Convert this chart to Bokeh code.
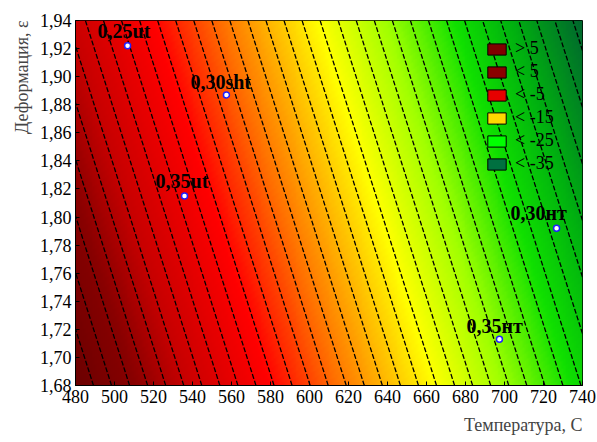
import numpy as np
from bokeh.plotting import figure
from bokeh.models import (ColumnDataSource, LinearColorMapper, FixedTicker,
                          Legend, LegendItem, Title)
from bokeh.core.properties import value
from bokeh.embed import file_html
from bokeh.resources import INLINE

# ---- axes ----
x_ticks = [480, 500, 520, 540, 560, 580, 600, 620, 640, 660, 680, 700, 720, 740]
x_tick_labels = [str(t) for t in x_ticks]
y_ticks = [1.68, 1.70, 1.72, 1.74, 1.76, 1.78, 1.80, 1.82, 1.84, 1.86, 1.88, 1.90, 1.92, 1.94]
y_tick_labels = ["1,68", "1,70", "1,72", "1,74", "1,76", "1,78", "1,80", "1,82",
                 "1,84", "1,86", "1,88", "1,90", "1,92", "1,94"]
x_title = "Температура, С"
y_title = "Деформация, ε"

# ---- fitted response surface z = b0 + bT*T + bE*eps ----
b0 = 99.5
bT = -0.108
bE = -24.8
contour_levels = list(range(-30, 8))

# colour scale of the surface (z value -> colour)
stop_z = [-29.0, -24.7, -21.5, -17.7, -13.9, -8.5, -4.7, -0.1, 2.8, 6.2]
stop_rgb = [(0x00, 0x60, 0x30), (0x00, 0xb0, 0x10), (0x10, 0xe0, 0x00), (0xa0, 0xff, 0x00),
            (0xff, 0xff, 0x00), (0xff, 0x70, 0x00), (0xff, 0x00, 0x00), (0xc8, 0x00, 0x00),
            (0x88, 0x00, 0x00), (0x6a, 0x00, 0x00)]

# ---- experimental points ----
pt_T = [506.7, 557.4, 535.9, 726.7, 697.4]
pt_E = [1.922, 1.887, 1.815, 1.792, 1.713]
pt_names = ["0,25ut", "0,30sht", "0,35ut", "0,30нт", "0,35нт"]
pt_dx = [-30, -36, -29, -46, -33]
pt_dy = [-15, -13, -15, -15, -13]

# ---- legend ----
legend_labels = ["> 5", "< 5", "< -5", "< -15", "< -25", "< -35"]
legend_colors = ["#800000", "#8b0000", "#e60000", "#ffd700", "#00ff00", "#007040"]

# build palette
zz = np.linspace(stop_z[0], stop_z[-1], 256)
rgb = np.array(stop_rgb, dtype=float)
palette = []
for v in zz:
    r = np.interp(v, stop_z, rgb[:, 0])
    g = np.interp(v, stop_z, rgb[:, 1])
    b = np.interp(v, stop_z, rgb[:, 2])
    palette.append("#%02x%02x%02x" % (int(round(r)), int(round(g)), int(round(b))))
mapper = LinearColorMapper(palette=palette, low=stop_z[0], high=stop_z[-1])

T = np.linspace(x_ticks[0], x_ticks[-1], 261)
E = np.linspace(y_ticks[0], y_ticks[-1], 261)
TT, EE = np.meshgrid(T, E)
Z = b0 + bT * TT + bE * EE

p = figure(width=597, height=442, x_range=(x_ticks[0], x_ticks[-1]),
           y_range=(y_ticks[0], y_ticks[-1]), output_backend="svg",
           toolbar_location=None, min_border_left=75, min_border_right=15,
           min_border_top=20, min_border_bottom=57)
p.xgrid.visible = False
p.ygrid.visible = False
p.background_fill_color = "white"
p.border_fill_color = "white"
p.outline_line_color = "black"

p.image(image=[Z], x=x_ticks[0], y=y_ticks[0], dw=x_ticks[-1] - x_ticks[0],
        dh=y_ticks[-1] - y_ticks[0], color_mapper=mapper)
p.contour(T, E, Z, levels=contour_levels, line_color="black", line_dash="5 2",
          line_width=1.3)

src = ColumnDataSource(dict(x=pt_T, y=pt_E, name=pt_names, dx=pt_dx, dy=pt_dy))
p.scatter("x", "y", source=src, size=6, fill_color="white", line_color="#2020ff",
          line_width=1.5)
p.text("x", "y", text="name", source=src, x_offset="dx", y_offset="dy",
       text_font=value("Liberation Serif"), text_font_style="bold",
       text_font_size="20px", text_baseline="middle", text_align="left",
       text_color="black")

# axes
p.xaxis.ticker = FixedTicker(ticks=x_ticks)
p.xaxis.major_label_overrides = {t: s for t, s in zip(x_ticks, x_tick_labels)}
p.yaxis.ticker = FixedTicker(ticks=y_ticks)
p.yaxis.major_label_overrides = {t: s for t, s in zip(y_ticks, y_tick_labels)}
for ax in (p.xaxis[0], p.yaxis[0]):
    ax.major_label_text_font = "Liberation Serif"
    ax.major_label_text_font_size = "18px"
    ax.major_label_text_color = "black"
    ax.major_tick_in = 4
    ax.major_tick_out = 0
    ax.minor_tick_line_color = None
    ax.axis_line_color = "black"
    ax.major_label_standoff = 4

p.add_layout(Title(text=x_title, align="right", text_font="Liberation Serif",
                   text_font_size="18px", text_font_style="normal",
                   standoff=15), "below")
p.add_layout(Title(text=y_title, align="right", text_font="Liberation Serif",
                   text_font_size="18px", text_font_style="normal"), "left")

# legend
nan = float("nan")
items = []
for lab, col in zip(legend_labels, legend_colors):
    r = p.rect(x=[nan], y=[nan], width=1, height=1, fill_color=col, line_color="black")
    items.append(LegendItem(label=lab, renderers=[r]))
leg = Legend(items=items, location=(410, 211), background_fill_alpha=0,
             border_line_alpha=0, glyph_width=23, glyph_height=14, spacing=2,
             padding=0, margin=0, label_standoff=7,
             label_text_font="Liberation Serif", label_text_font_size="18px",
             label_text_color="black")
p.add_layout(leg)

open("out.html", "w").write(file_html(p, INLINE))
